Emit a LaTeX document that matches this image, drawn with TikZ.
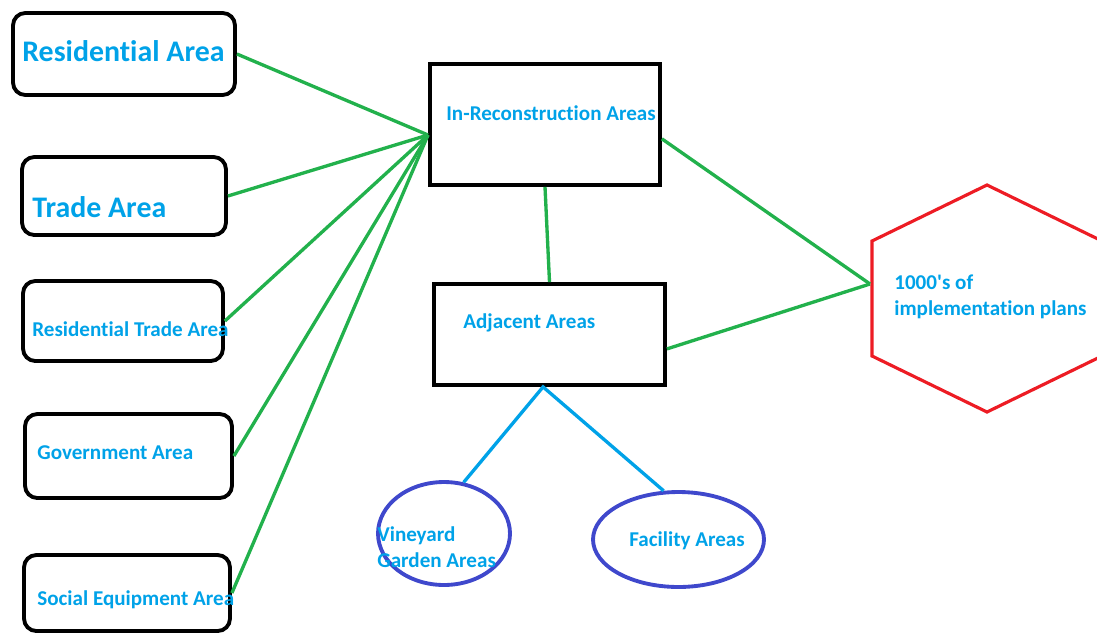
\documentclass[tikz,border=0pt]{standalone}
\usepackage{fontspec}
\setmainfont{Carlito}[Ligatures={NoCommon}]
\usepackage{xcolor}
\usetikzlibrary{shapes.geometric}

\definecolor{areablue}{HTML}{00A2E8}
\definecolor{linkgreen}{HTML}{22B14C}
\definecolor{planred}{HTML}{ED1C24}
\definecolor{ovalblue}{HTML}{3F48CC}

\tikzset{
    areabox/.style={draw, line width=2.2pt, rounded corners=7pt, inner sep=0pt},
    mainbox/.style={draw, line width=2.2pt, inner sep=0pt},
    oval/.style={draw=ovalblue, ellipse, line width=2.2pt, inner sep=0pt},
    bigtext/.style={anchor=base west, inner sep=0pt, text=areablue, font=\fontsize{17}{20}\selectfont\bfseries},
    smalltext/.style={anchor=base west, inner sep=0pt, text=areablue, align=left, font=\fontsize{12}{14.5}\selectfont\bfseries},
    greenlink/.style={draw=linkgreen, line width=1.9pt},
    bluelink/.style={draw=areablue, line width=1.9pt}
}

\begin{document}
\begin{tikzpicture}[x=0.02cm, y=-0.02cm]

    % Frame of the picture
    \useasboundingbox (0,0) rectangle (1097,635);
    \clip (0,0) rectangle (1097,635);

    % 1. The area boxes on the left
    \node[areabox, minimum width=4.44cm, minimum height=1.64cm] (res) at (124,54) {};
    \node[areabox, minimum width=4.08cm, minimum height=1.56cm] (trade) at (124,196) {};
    \node[areabox, minimum width=4.00cm, minimum height=1.60cm] (restrade) at (123,321) {};
    \node[areabox, minimum width=4.14cm, minimum height=1.68cm] (gov) at (128.5,456) {};
    \node[areabox, minimum width=4.12cm, minimum height=1.52cm] (social) at (127,593) {};

    \node[bigtext] (res-t) at (22,62) {Residential Area};
    \node[bigtext] (trade-t) at (32,217) {Trade Area};
    \node[smalltext] (restrade-t) at (32,336) {Residential Trade Area};
    \node[smalltext] (gov-t) at (37,459) {Government Area};
    \node[smalltext] (social-t) at (37,605) {Social Equipment Area};

    % 2. The two middle boxes
    \node[mainbox, minimum width=4.60cm, minimum height=2.42cm] (recon) at (545,124.5) {};
    \node[mainbox, minimum width=4.62cm, minimum height=2.02cm] (adj) at (549.5,334.5) {};

    \node[smalltext] (recon-t) at (446,120) {In-Reconstruction Areas};
    \node[smalltext] (adj-t) at (463,328) {Adjacent Areas};

    % 3. The hexagon of plans (cut by the right edge)
    \draw[planred, line width=1.8pt] (987,185) -- (1102,241) -- (1102,356)
        -- (987,412) -- (872,356) -- (872,241) -- cycle;
    \coordinate (hexw) at (870,284);
    \node[smalltext] (plans-t) at (894,315) {1000\textquotesingle s of\\implementation plans};

    % 4. The two ovals below
    \node[oval, minimum width=2.64cm, minimum height=2.06cm] (vine) at (444,533.5) {};
    \node[oval, minimum width=3.42cm, minimum height=1.90cm] (fac) at (678.5,539.5) {};

    \node[smalltext] (vine-t) at (377,567) {Vineyard\\Garden Areas};
    \node[smalltext] (fac-t) at (629,546) {Facility Areas};

    % 5. Green connectors
    \coordinate (hub) at (428,135);
    \foreach \area in {res, trade, restrade, gov, social}
        \draw[greenlink] (\area.east) -- (hub);
    \draw[greenlink] (recon.south) -- (adj.north);
    \draw[greenlink] (recon.-7) -- (hexw);
    \draw[greenlink] (adj.-7) -- (hexw);

    % 6. Blue connectors
    \draw[bluelink] (vine.69) -- (adj.-97) -- (fac.107);
\end{tikzpicture}
\end{document}
